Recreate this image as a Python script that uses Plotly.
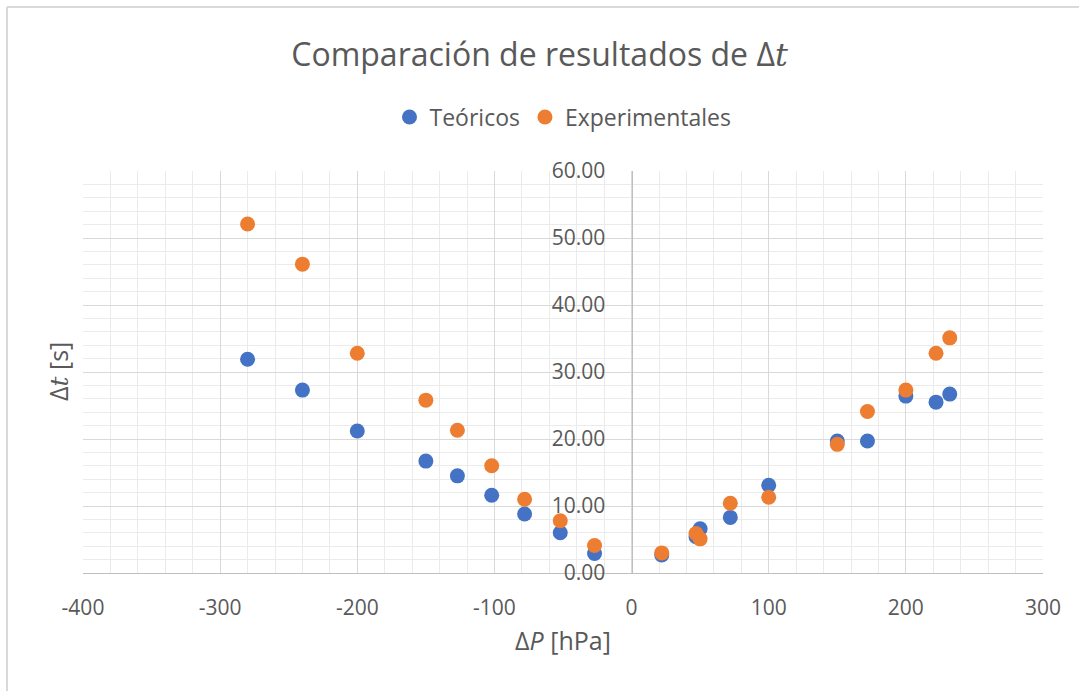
import plotly.graph_objects as go

# Pressure differences [hPa]
delta_p = [-280, -240, -200, -150, -127, -102, -78, -52, -27,
           22, 47, 50, 72, 100, 150, 172, 200, 222, 232]

# Time differences [s]
teoricos = [31.9, 27.3, 21.2, 16.7, 14.5, 11.6, 8.8, 6.0, 2.9,
            2.7, 5.4, 6.6, 8.3, 13.1, 19.7, 19.7, 26.4, 25.5, 26.7]
experimentales = [52.1, 46.1, 32.8, 25.8, 21.3, 16.0, 11.0, 7.8, 4.1,
                  3.0, 5.9, 5.1, 10.4, 11.3, 19.2, 24.1, 27.3, 32.8, 35.1]

# Horizontal axis ticks
x_ticks = [-400, -300, -200, -100, 0, 100, 200, 300]
x_tick_labels = ["-400", "-300", "-200", "-100", "0", "100", "200", "300"]

BLUE = "#4472C4"
ORANGE = "#ED7D31"
TEXT = "#595959"
FONT = "Open Sans"

W, H = 1079, 691
ML, MR, MT, MB = 83, 36, 171, 118
plot_w = W - ML - MR
plot_h = H - MT - MB

fig = go.Figure()
fig.add_trace(go.Scatter(
    x=delta_p, y=teoricos, mode="markers", name="Teóricos",
    marker=dict(color=BLUE, size=15, line=dict(width=0)),
))
fig.add_trace(go.Scatter(
    x=delta_p, y=experimentales, mode="markers", name="Experimentales",
    marker=dict(color=ORANGE, size=15, line=dict(width=0)),
))

x_range = [-400, 300]
zero_pos = (0 - x_range[0]) / (x_range[1] - x_range[0])

fig.update_layout(
    width=W, height=H,
    margin=dict(l=ML, r=MR, t=MT, b=MB, pad=0),
    paper_bgcolor="white", plot_bgcolor="white",
    font=dict(family=FONT, color=TEXT),
    title=dict(
        text="Comparación de resultados de Δ<span style=\"font-family:DejaVu Serif\"><i>t</i></span>",
        x=0.5, xanchor="center", y=1 - 55 / H, yanchor="middle",
        font=dict(size=32, color=TEXT, family=FONT),
    ),
    legend=dict(
        orientation="h", x=0.5, xanchor="center",
        y=(H - MB - 117) / plot_h, yanchor="middle",
        font=dict(size=23, color=TEXT), itemwidth=30,
        bgcolor="rgba(0,0,0,0)",
    ),
    showlegend=True,
    xaxis=dict(
        range=x_range, tickmode="array", tickvals=x_ticks, ticktext=x_tick_labels,
        showgrid=True, gridcolor="#d9d9d9", gridwidth=1,
        minor=dict(dtick=20, tick0=0, showgrid=True, gridcolor="#ebebeb", gridwidth=1),
        zeroline=False,
        showline=True, linecolor="#bfbfbf", linewidth=1,
        ticks="", ticklabelstandoff=16,
        tickfont=dict(size=21, color=TEXT),
        title=dict(text="Δ<i>P</i> [hPa]", font=dict(size=25, color=TEXT), standoff=12),
    ),
    yaxis=dict(
        range=[0, 60], dtick=10, tick0=0, tickformat=".2f",
        anchor="free", position=zero_pos,
        showgrid=True, gridcolor="#d9d9d9", gridwidth=1,
        minor=dict(dtick=2, showgrid=True, gridcolor="#ebebeb", gridwidth=1),
        zeroline=False,
        showline=True, linecolor="#bfbfbf", linewidth=1,
        ticks="", ticklabelstandoff=22,
        tickfont=dict(size=21, color=TEXT),
    ),
)

# Vertical axis title
fig.add_annotation(
    text="Δ<span style=\"font-family:DejaVu Serif\"><i>t</i></span> [s]",
    xref="paper", yref="paper",
    x=(58 - ML) / plot_w, y=0.5, xanchor="center", yanchor="middle",
    textangle=-90, showarrow=False,
    font=dict(size=25, color=TEXT),
)

# Chart frame (left and top edges)
fx = (7 - ML) / plot_w
fy = (H - MB - 7) / plot_h
fig.add_shape(type="line", xref="paper", yref="paper",
              x0=fx, x1=fx, y0=fy, y1=-(MB + 5) / plot_h,
              line=dict(color="#d9d9d9", width=2))
fig.add_shape(type="line", xref="paper", yref="paper",
              x0=fx, x1=(W - ML + 5) / plot_w, y0=fy, y1=fy,
              line=dict(color="#d9d9d9", width=2))

fig.write_html("out.html")
